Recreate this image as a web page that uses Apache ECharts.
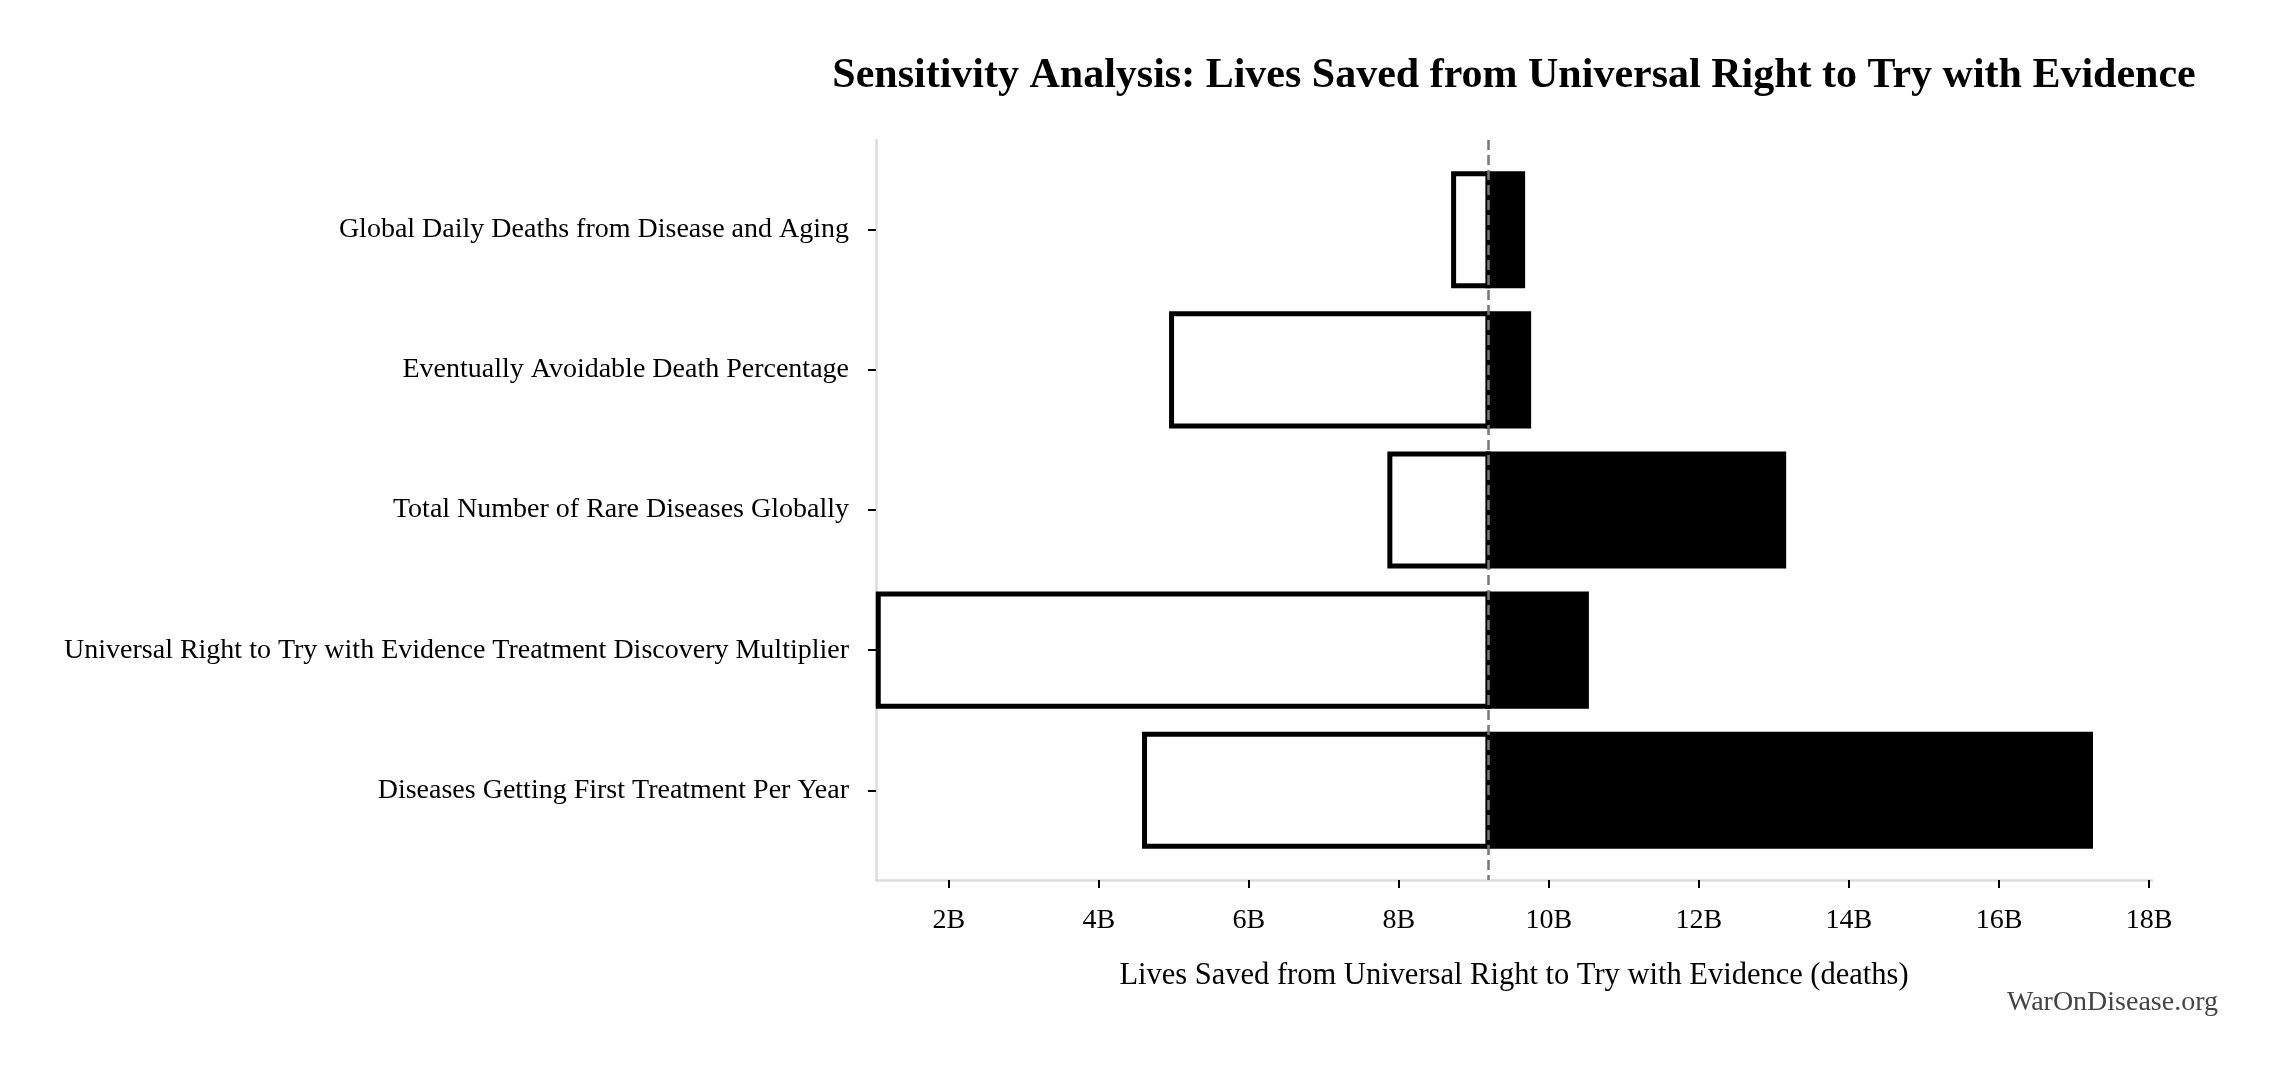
<!DOCTYPE html>
<html>
<head>
<meta charset="utf-8">
<title>Sensitivity Analysis</title>
<script src="https://cdn.jsdelivr.net/npm/echarts@6/dist/echarts.min.js"></script>
<style>
  html, body { margin: 0; padding: 0; background: #fff; }
  #chartDiv { width: 2275px; height: 1071px; }
</style>
</head>
<body>
<div id="chartDiv"></div>
<script>
var myChart = echarts.init(document.getElementById('chartDiv'));
window.onresize = myChart.resize;

// parameters, top to bottom
var categories = [
    'Global Daily Deaths from Disease and Aging',
    'Eventually Avoidable Death Percentage',
    'Total Number of Rare Diseases Globally',
    'Universal Right to Try with Evidence Treatment Discovery Multiplier',
    'Diseases Getting First Treatment Per Year'
];
// lives saved, billions
var baseValue = 9.19;
var lowValues = [8.73, 4.97, 7.88, 1.06, 4.61];
var highValues = [9.65, 9.73, 13.13, 10.50, 17.22];
var xTicks = [2, 4, 6, 8, 10, 12, 14, 16, 18];
var yTicks = [0, 1, 2, 3, 4];

var font = 'Liberation Serif';

var lowData = categories.map(function (c, i) { return [i, lowValues[i], baseValue]; });
var highData = categories.map(function (c, i) { return [i, baseValue, highValues[i]]; });

function barItem(fill) {
    return function (params, api) {
        var p0 = api.coord([api.value(1), api.value(0) - 0.4]);
        var p1 = api.coord([api.value(2), api.value(0) + 0.4]);
        return {
            type: 'rect',
            shape: {
                x: Math.min(p0[0], p1[0]),
                y: Math.min(p0[1], p1[1]),
                width: Math.abs(p1[0] - p0[0]),
                height: Math.abs(p1[1] - p0[1])
            },
            style: { fill: fill, stroke: '#000', lineWidth: 5, lineJoin: 'miter' }
        };
    };
}

option = {
    backgroundColor: '#fff',
    animation: false,
    textStyle: { fontFamily: font },
    graphic: [
        {
            type: 'text',
            x: 1514,
            y: 55,
            style: {
                text: 'Sensitivity Analysis: Lives Saved from Universal Right to Try with Evidence',
                font: 'bold 42px "' + font + '"',
                fill: '#000',
                textAlign: 'center',
                textVerticalAlign: 'top'
            }
        },
        {
            type: 'text',
            x: 2218,
            y: 1003,
            style: {
                text: 'WarOnDisease.org',
                font: '28px "' + font + '"',
                fill: '#444',
                textAlign: 'right',
                textVerticalAlign: 'middle'
            }
        }
    ],
    grid: { left: 876, right: 123, top: 140, bottom: 191, containLabel: false },
    xAxis: {
        type: 'value',
        min: 1.03,
        max: 18.04,
        name: 'Lives Saved from Universal Right to Try with Evidence (deaths)',
        nameLocation: 'middle',
        nameGap: 80,
        nameTextStyle: { fontSize: 30.5, color: '#000', fontFamily: font },
        axisLine: { show: true, onZero: false, lineStyle: { color: '#dcdcdc', width: 2.5 } },
        axisTick: {
            show: true,
            length: 8,
            customValues: xTicks,
            lineStyle: { color: '#000', width: 2 }
        },
        axisLabel: {
            margin: 27,
            fontSize: 28,
            color: '#000',
            fontFamily: font,
            customValues: xTicks,
            formatter: function (v) { return v + 'B'; }
        },
        splitLine: { show: false }
    },
    yAxis: {
        type: 'value',
        inverse: true,
        min: -0.64,
        max: 4.64,
        axisLine: { show: true, onZero: false, lineStyle: { color: '#dcdcdc', width: 2.5 } },
        axisTick: {
            show: true,
            length: 8,
            customValues: yTicks,
            lineStyle: { color: '#000', width: 2 }
        },
        axisLabel: {
            margin: 27,
            fontSize: 28,
            color: '#000',
            fontFamily: font,
            customValues: yTicks,
            formatter: function (v) { return categories[Math.round(v)]; }
        },
        splitLine: { show: false }
    },
    series: [
        {
            name: 'base',
            type: 'custom',
            renderItem: function () { return null; },
            data: [],
            z: 1,
            markLine: {
                silent: true,
                symbol: 'none',
                label: { show: false },
                lineStyle: { color: '#777', width: 2.5, type: [10, 5] },
                data: [{ xAxis: baseValue }]
            }
        },
        {
            name: 'low',
            type: 'custom',
            renderItem: barItem('#fff'),
            encode: { x: [1, 2], y: 0 },
            data: lowData,
            z: 2
        },
        {
            name: 'high',
            type: 'custom',
            renderItem: barItem('#000'),
            encode: { x: [1, 2], y: 0 },
            data: highData,
            z: 3
        }
    ]
};
myChart.setOption(option);
</script>
</body>
</html>
